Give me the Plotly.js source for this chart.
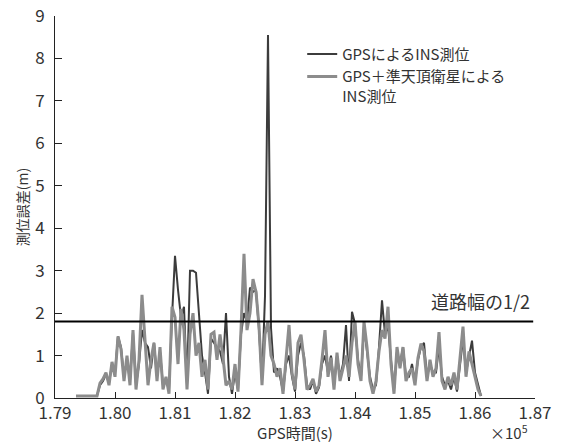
<!DOCTYPE html>
<html><head><meta charset="utf-8">
<script src="https://cdn.plot.ly/plotly-3.0.1.min.js"></script>
<style>html,body{margin:0;padding:0;background:#fff}#chart{width:561px;height:443px}</style>
</head><body><div id="chart"></div>
<script>
// GPS time (s)
const gpsTime = [179350,179700,
179750,179800,179850,179900,179950,180000,180050,180100,180150,180200,
180250,180300,180350,180400,180450,180500,180550,180600,180650,180700,
180750,180800,180850,180900,180950,181000,181050,181100,181150,181200,
181250,181300,181350,181400,181450,181500,181550,181600,181650,181700,
181750,181800,181850,181900,181950,182000,182050,182100,182150,182200,
182250,182300,182350,182400,182450,182500,182550,182600,182650,182700,
182750,182800,182850,182900,182950,183000,183050,183100,183150,183200,
183250,183300,183350,183400,183450,183500,183550,183600,183650,183700,
183750,183800,183850,183900,183950,184000,184050,184100,184150,184200,
184250,184300,184350,184400,184450,184500,184550,184600,184650,184700,
184750,184800,184850,184900,184950,185000,185050,185100,185150,185200,
185250,185300,185350,185400,185450,185500,185550,185600,185650,185700,
185750,185800,185850,185900,185950,186000,186050,186100];
// GPS+QZSS INS positioning error (m)
const errQzss = [0.05,0.05,
0.35,0.45,0.6,0.3,0.85,0.5,1.45,1.15,0.4,1.0,
0.3,1.6,0.2,0.9,2.43,1.25,0.3,0.9,1.3,0.4,
1.2,0.2,0.5,0.1,2.15,1.9,0.8,2.1,1.6,0.2,
1.5,2.0,1.0,1.3,0.5,0.9,0.2,1.5,1.55,0.9,
1.5,0.95,0.3,0.4,0.2,0.8,0.15,1.6,3.4,1.6,
2.0,2.8,2.5,1.7,0.3,1.5,1.8,1.0,0.8,0.5,
0.7,0.1,1.0,1.72,0.6,0.2,1.3,1.49,0.9,0.2,
0.3,0.45,0.15,0.3,0.9,1.6,0.5,0.95,0.2,1.07,
0.4,0.7,1.0,0.5,1.3,1.8,0.8,0.4,1.8,1.2,
0.4,0.1,0.4,1.1,1.6,1.4,2.15,0.8,0.1,1.2,
0.7,1.2,0.4,0.6,0.7,0.3,0.95,1.28,1.1,0.4,
0.9,0.5,0.7,1.55,0.4,0.2,0.5,0.3,0.6,0.2,
0.9,1.68,0.5,1.1,0.8,0.5,0.2,0.05];
// GPS-only INS positioning error (m)
const errGps = [0.05,0.05,
0.3,0.4,0.55,0.35,0.8,0.6,1.45,1.2,0.5,0.9,
0.4,1.55,0.3,0.8,1.6,1.3,1.2,0.7,1.3,0.5,
1.1,0.3,0.4,0.2,1.9,3.35,2.55,1.9,2.15,0.3,
3.0,3.0,2.95,1.9,1.0,0.6,0.1,1.4,1.3,1.2,
1.1,0.8,2.0,0.5,0.1,0.6,0.2,1.5,2.0,1.8,
2.6,2.5,2.55,1.6,0.4,2.4,8.55,1.65,0.6,0.7,
0.5,0.15,0.8,1.0,0.5,0.15,1.0,1.3,1.0,0.3,
0.2,0.4,0.1,0.25,0.8,1.0,0.6,1.0,0.3,1.0,
0.5,0.8,1.72,0.4,2.03,1.75,0.9,0.5,1.7,1.1,
0.5,0.2,0.3,1.2,2.3,1.5,1.7,0.9,0.2,1.1,
0.8,1.2,0.5,0.5,0.8,0.4,0.9,1.2,1.3,0.5,
0.8,0.6,0.6,1.2,0.5,0.3,0.4,0.2,0.5,0.15,
0.8,1.4,0.6,1.0,1.35,0.6,0.3,0.05];
const halfRoad = 1.8;
const halfRoadX = [179000, 186970];
const xTickVals = [179000,180000,181000,182000,183000,184000,185000,186000,187000];
const xTickText = ['1.79','1.80','1.81','1.82','1.83','1.84','1.85','1.86','1.87'];
const yTickVals = [0,1,2,3,4,5,6,7,8,9];
const seriesNames = ['GPSによるINS測位', 'GPS＋準天頂衛星による<br>INS測位'];

const FONT = '"Noto Sans CJK JP", "Noto Sans", sans-serif';
const traces = [
  {x: gpsTime, y: errGps, type: 'scatter', mode: 'lines', name: seriesNames[0],
   line: {color: '#3c3c3c', width: 2}},
  {x: gpsTime, y: errQzss, type: 'scatter', mode: 'lines', name: seriesNames[1],
   line: {color: '#8c8c8c', width: 3}},
  {x: halfRoadX, y: [halfRoad, halfRoad], type: 'scatter', mode: 'lines', showlegend: false,
   line: {color: '#000', width: 2}, hoverinfo: 'skip'}
];
const layout = {
  width: 561, height: 443,
  margin: {l: 55, r: 26, t: 16, b: 45},
  paper_bgcolor: '#fff', plot_bgcolor: '#fff',
  font: {family: FONT, color: '#333', size: 16},
  showlegend: true,
  legend: {x: 0.515, y: 0.943, xanchor: 'left', yanchor: 'top', bgcolor: 'rgba(0,0,0,0)',
           font: {family: FONT, size: 15, color: '#333'}, valign: 'top', tracegroupgap: 0},
  xaxis: {range: [179000, 187000], tickmode: 'array', tickvals: xTickVals, ticktext: xTickText,
          ticks: 'inside', ticklen: 6, tickcolor: '#222', showgrid: false, zeroline: false,
          showline: true, linecolor: '#222', linewidth: 1,
          tickfont: {family: FONT, size: 17, color: '#333'},
          title: {text: 'GPS時間(s)', font: {family: FONT, size: 15, color: '#333'}, standoff: 9}},
  yaxis: {range: [0, 9], tickmode: 'array', tickvals: yTickVals,
          ticks: 'inside', ticklen: 7, tickcolor: '#222', showgrid: false, zeroline: false,
          showline: true, linecolor: '#222', linewidth: 1, ticklabelstandoff: 6,
          tickfont: {family: FONT, size: 17, color: '#333'},
          title: {text: '測位誤差(m)', font: {family: FONT, size: 14, color: '#333'}, standoff: 3}},
  annotations: [
    {x: 186950, y: halfRoad, xref: 'x', yref: 'y', xanchor: 'right', yanchor: 'bottom', yshift: 6,
     text: '道路幅の1/2', showarrow: false, font: {family: FONT, size: 18, color: '#333'}},
    {x: 0.945, y: -0.058, xref: 'paper', yref: 'paper', xanchor: 'center', yanchor: 'top',
     text: '×10<sup>5</sup>', showarrow: false, font: {family: FONT, size: 15, color: '#333'}, borderpad: 0}
  ]
};
Plotly.newPlot('chart', traces, layout, {displayModeBar: false, staticPlot: true});
</script></body></html>
